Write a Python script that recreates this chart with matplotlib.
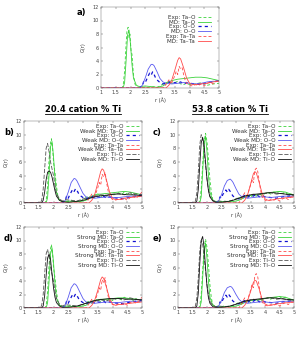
import matplotlib
matplotlib.use("Agg")
import matplotlib.pyplot as plt
from matplotlib.lines import Line2D

# ---------------- data ----------------
x_ticks = [1, 1.5, 2, 2.5, 3, 3.5, 4, 4.5, 5]
x_tick_labels = ["1", "1.5", "2", "2.5", "3", "3.5", "4", "4.5", "5"]
y_ticks = [0, 2, 4, 6, 8, 10, 12]
titles = ["20.4 cation % Ti", "53.8 cation % Ti"]
panel_letters = ["a)", "b)", "c)", "d)", "e)"]

# panel a (pure Ta2O5)
a_exp_tao_r = [1.0, 1.7, 1.75, 1.8, 1.85, 1.88, 1.92, 1.95, 1.98, 2.02, 2.05, 2.1, 2.15, 2.2, 2.3, 2.4, 2.5, 2.6, 2.7, 2.8, 2.9, 3.0, 3.1, 3.2, 3.3, 3.4, 3.5, 3.6, 3.7, 3.8, 3.9, 4.0, 4.2, 4.4, 4.6, 4.8, 5.0]
a_exp_tao_g = [0, 0, 0.3, 2.5, 6.5, 8.5, 9.0, 7.5, 8.0, 5.5, 5.0, 2.0, 0.6, 0.2, 0.0, 0.05, 0.1, 0.05, 0.1, 0.2, 0.1, 0.3, 0.6, 0.8, 0.9, 0.7, 0.8, 1.0, 0.6, 0.5, 0.7, 0.5, 0.6, 0.8, 0.4, 0.6, 0.7]
a_md_tao_r = [1.0, 1.75, 1.8, 1.85, 1.9, 1.95, 2.0, 2.05, 2.1, 2.2, 2.3, 2.5, 2.7, 2.9, 3.1, 3.2, 3.3, 3.4, 3.5, 3.6, 3.8, 4.0, 4.2, 4.4, 4.6, 4.8, 5.0]
a_md_tao_g = [0, 0, 0.8, 4.0, 7.8, 8.6, 6.5, 3.5, 1.5, 0.4, 0.2, 0.3, 0.2, 0.1, 0.3, 0.6, 0.9, 1.1, 1.2, 1.3, 1.4, 1.5, 1.6, 1.6, 1.5, 1.3, 1.1]
a_exp_oo_r = [1.0, 2.3, 2.4, 2.45, 2.5, 2.55, 2.6, 2.65, 2.7, 2.75, 2.8, 2.85, 2.9, 2.95, 3.0, 3.1, 3.2, 3.3, 3.4, 3.5, 3.6, 3.7, 3.8, 3.9, 4.0, 4.2, 4.4, 4.6, 4.8, 5.0]
a_exp_oo_g = [0, 0, 0.3, 1.0, 0.8, 1.3, 1.8, 2.2, 1.9, 2.4, 2.0, 1.5, 1.2, 1.0, 0.8, 0.6, 0.7, 0.9, 0.6, 0.8, 0.7, 0.9, 0.6, 0.8, 0.7, 0.6, 0.5, 0.8, 0.9, 1.1]
a_md_oo_r = [1.0, 2.3, 2.4, 2.5, 2.6, 2.7, 2.75, 2.8, 2.9, 3.0, 3.1, 3.2, 3.4, 3.6, 3.8, 4.0, 4.2, 4.4, 4.6, 4.8, 5.0]
a_md_oo_g = [0, 0, 0.4, 1.5, 2.8, 3.5, 3.5, 3.3, 2.4, 1.4, 0.9, 0.7, 0.6, 0.7, 0.8, 0.7, 0.6, 0.7, 0.9, 1.0, 1.0]
a_exp_tata_r = [1.0, 3.1, 3.2, 3.3, 3.35, 3.4, 3.5, 3.55, 3.6, 3.65, 3.7, 3.75, 3.8, 3.85, 3.9, 4.0, 4.1, 4.2, 4.3, 4.4, 4.5, 4.6, 4.7, 4.8, 4.9, 5.0]
a_exp_tata_g = [0, 0, 0.5, 1.2, 1.0, 0.8, 1.8, 2.5, 2.0, 3.2, 2.8, 3.0, 2.0, 1.2, 0.7, 0.4, 0.3, 0.5, 0.4, 0.6, 0.3, 0.7, 0.9, 0.6, 1.0, 1.1]
a_md_tata_r = [1.0, 3.2, 3.3, 3.4, 3.5, 3.6, 3.65, 3.7, 3.8, 3.9, 4.0, 4.1, 4.2, 4.4, 4.6, 4.8, 5.0]
a_md_tata_g = [0, 0, 0.4, 1.2, 2.6, 4.1, 4.5, 4.3, 3.0, 1.5, 0.7, 0.5, 0.5, 0.6, 0.7, 0.9, 1.0]

# experimental curves, 20.4 cation % Ti (panels b, d)
e20_tao_r = [1.0, 1.7, 1.75, 1.8, 1.85, 1.9, 1.93, 1.97, 2.0, 2.05, 2.1, 2.15, 2.2, 2.3, 2.4, 2.5, 2.6, 2.7, 2.8, 2.9, 3.0, 3.1, 3.2, 3.3, 3.4, 3.5, 3.6, 3.7, 3.8, 3.9, 4.0, 4.1, 4.2, 4.3, 4.4, 4.5, 4.6, 4.7, 4.8, 4.9, 5.0]
e20_tao_g = [0, 0, 0.3, 2.5, 6.5, 8.8, 9.4, 8.0, 6.0, 4.5, 2.5, 1.0, 0.4, 0.2, 0.3, 0.2, 0.4, 0.3, 0.2, 0.3, 0.5, 0.8, 1.0, 0.7, 1.1, 1.3, 0.9, 1.2, 1.0, 1.4, 1.1, 1.3, 1.5, 1.2, 1.6, 1.3, 1.5, 1.1, 1.4, 0.9, 1.2]
e20_oo_r = [1.0, 2.3, 2.4, 2.45, 2.5, 2.55, 2.6, 2.65, 2.7, 2.75, 2.8, 2.85, 2.9, 3.0, 3.1, 3.2, 3.3, 3.4, 3.5, 3.6, 3.7, 3.8, 3.9, 4.0, 4.2, 4.4, 4.6, 4.8, 5.0]
e20_oo_g = [0, 0, 0.4, 1.1, 0.7, 1.2, 1.6, 2.0, 1.7, 2.1, 1.8, 1.4, 1.1, 0.8, 0.6, 0.8, 1.0, 0.7, 0.9, 0.8, 1.0, 0.7, 0.9, 0.8, 0.7, 0.6, 0.9, 1.0, 1.2]
e20_tata_r = [1.0, 3.1, 3.2, 3.3, 3.35, 3.4, 3.5, 3.55, 3.6, 3.65, 3.7, 3.75, 3.8, 3.85, 3.9, 4.0, 4.1, 4.2, 4.3, 4.4, 4.5, 4.6, 4.7, 4.8, 4.9, 5.0]
e20_tata_g = [0, 0, 0.6, 1.3, 1.0, 1.0, 2.2, 3.0, 2.6, 4.2, 3.8, 4.5, 3.0, 1.8, 1.0, 0.5, 0.4, 0.6, 0.5, 0.7, 0.4, 0.8, 1.0, 0.7, 1.1, 1.6]
e20_tio_r = [1.0, 1.55, 1.6, 1.65, 1.7, 1.75, 1.8, 1.85, 1.9, 1.95, 2.0, 2.05, 2.1, 2.2, 2.3, 2.4, 2.6, 2.8, 3.0, 3.2, 3.4, 3.6, 3.8, 4.0, 4.2, 4.4, 4.6, 4.8, 5.0]
e20_tio_g = [0, 0, 0.4, 2.0, 5.0, 8.0, 8.7, 7.5, 6.0, 5.0, 4.0, 2.5, 1.4, 0.6, 0.3, 0.5, 0.4, 0.3, 0.6, 0.8, 1.0, 1.2, 1.1, 1.3, 1.4, 1.2, 1.5, 1.3, 1.2]

# experimental curves, 53.8 cation % Ti (panels c, e)
e53_tao_r = [1.0, 1.7, 1.75, 1.8, 1.85, 1.9, 1.95, 2.0, 2.05, 2.1, 2.15, 2.2, 2.3, 2.4, 2.5, 2.6, 2.7, 2.8, 2.9, 3.0, 3.1, 3.2, 3.3, 3.4, 3.5, 3.6, 3.7, 3.8, 3.9, 4.0, 4.1, 4.2, 4.3, 4.4, 4.5, 4.6, 4.7, 4.8, 4.9, 5.0]
e53_tao_g = [0, 0, 0.3, 2.0, 5.5, 9.0, 10.2, 9.0, 6.5, 3.5, 1.5, 0.5, 0.2, 0.3, 0.2, 0.3, 0.2, 0.3, 0.4, 0.6, 0.8, 0.6, 0.9, 1.1, 0.8, 1.2, 1.0, 1.3, 1.1, 1.4, 1.5, 1.3, 1.6, 1.5, 1.7, 1.4, 1.6, 1.2, 1.3, 1.0]
e53_oo_r = [1.0, 2.3, 2.4, 2.45, 2.5, 2.55, 2.6, 2.65, 2.7, 2.75, 2.8, 2.85, 2.9, 3.0, 3.1, 3.2, 3.3, 3.4, 3.5, 3.6, 3.7, 3.8, 3.9, 4.0, 4.2, 4.4, 4.6, 4.8, 5.0]
e53_oo_g = [0, 0, 0.3, 0.9, 0.7, 1.3, 1.5, 1.9, 1.6, 2.0, 1.7, 1.3, 1.0, 0.7, 0.6, 0.9, 1.1, 0.8, 1.2, 1.0, 1.3, 0.9, 1.1, 0.9, 0.8, 0.7, 0.9, 1.0, 1.1]
e53_tata_r = [1.0, 3.1, 3.2, 3.3, 3.35, 3.4, 3.5, 3.55, 3.6, 3.65, 3.7, 3.75, 3.8, 3.85, 3.9, 4.0, 4.1, 4.2, 4.3, 4.4, 4.5, 4.6, 4.7, 4.8, 4.9, 5.0]
e53_tata_g = [0, 0, 0.7, 1.5, 1.1, 1.2, 2.6, 3.5, 3.0, 4.8, 5.1, 4.6, 3.2, 1.8, 0.9, 0.4, 0.3, 0.5, 0.4, 0.6, 0.3, 0.6, 0.8, 0.5, 0.9, 0.8]
e53_tio_r = [1.0, 1.55, 1.6, 1.65, 1.7, 1.75, 1.8, 1.85, 1.9, 1.95, 2.0, 2.05, 2.1, 2.2, 2.3, 2.4, 2.6, 2.8, 3.0, 3.2, 3.4, 3.6, 3.8, 4.0, 4.2, 4.4, 4.6, 4.8, 5.0]
e53_tio_g = [0, 0, 0.3, 1.5, 4.5, 8.5, 10.0, 9.5, 7.5, 5.5, 3.5, 2.0, 1.0, 0.4, 0.2, 0.3, 0.2, 0.3, 0.6, 0.9, 1.1, 1.3, 1.2, 1.4, 1.5, 1.3, 1.4, 1.2, 1.1]

# weak MD, 20.4 % (panel b)
b_md_tao_r = [1.0, 1.75, 1.8, 1.85, 1.9, 1.95, 2.0, 2.05, 2.1, 2.2, 2.3, 2.5, 2.7, 2.9, 3.1, 3.2, 3.3, 3.4, 3.5, 3.6, 3.8, 4.0, 4.2, 4.4, 4.6, 4.8, 5.0]
b_md_tao_g = [0, 0, 0.8, 4.2, 8.2, 9.0, 6.8, 3.6, 1.5, 0.4, 0.2, 0.3, 0.2, 0.2, 0.4, 0.7, 1.0, 1.2, 1.3, 1.3, 1.4, 1.5, 1.6, 1.7, 1.6, 1.4, 1.2]
b_md_oo_r = [1.0, 2.3, 2.4, 2.5, 2.6, 2.7, 2.75, 2.8, 2.9, 3.0, 3.1, 3.2, 3.4, 3.6, 3.8, 4.0, 4.2, 4.4, 4.6, 4.8, 5.0]
b_md_oo_g = [0, 0, 0.4, 1.6, 3.0, 3.6, 3.5, 3.2, 2.3, 1.4, 0.9, 0.8, 0.7, 0.8, 0.9, 0.8, 0.8, 0.9, 1.0, 1.0, 1.0]
b_md_tata_r = [1.0, 3.2, 3.3, 3.4, 3.5, 3.6, 3.65, 3.7, 3.8, 3.9, 4.0, 4.1, 4.2, 4.4, 4.6, 4.8, 5.0]
b_md_tata_g = [0, 0, 0.4, 1.3, 2.9, 4.6, 5.0, 4.8, 3.3, 1.6, 0.7, 0.5, 0.5, 0.7, 0.8, 0.9, 1.0]
b_md_tio_r = [1.0, 1.6, 1.65, 1.7, 1.75, 1.8, 1.85, 1.9, 1.95, 2.0, 2.05, 2.1, 2.2, 2.3, 2.5, 2.7, 2.9, 3.1, 3.3, 3.5, 3.7, 3.9, 4.1, 4.3, 4.5, 4.7, 5.0]
b_md_tio_g = [0, 0, 0.4, 1.6, 3.4, 4.5, 4.7, 4.5, 3.8, 2.8, 1.8, 1.0, 0.4, 0.2, 0.1, 0.2, 0.3, 0.5, 0.8, 1.0, 1.1, 1.2, 1.3, 1.3, 1.2, 1.2, 1.1]

# weak MD, 53.8 % (panel c)
c_md_tao_r = [1.0, 1.75, 1.8, 1.85, 1.9, 1.95, 2.0, 2.05, 2.1, 2.2, 2.3, 2.5, 2.7, 2.9, 3.1, 3.3, 3.5, 3.7, 3.9, 4.1, 4.3, 4.5, 4.7, 4.9, 5.0]
c_md_tao_g = [0, 0, 0.9, 4.5, 8.6, 9.8, 7.5, 4.0, 1.6, 0.4, 0.2, 0.2, 0.2, 0.2, 0.4, 0.8, 1.1, 1.2, 1.3, 1.5, 1.6, 1.7, 1.6, 1.3, 1.2]
c_md_oo_r = [1.0, 2.3, 2.4, 2.5, 2.6, 2.7, 2.8, 2.85, 2.9, 3.0, 3.1, 3.2, 3.4, 3.6, 3.8, 4.0, 4.2, 4.4, 4.6, 4.8, 5.0]
c_md_oo_g = [0, 0, 0.3, 1.2, 2.5, 3.3, 3.5, 3.3, 3.0, 2.1, 1.3, 0.9, 0.7, 0.8, 0.9, 0.9, 0.8, 0.9, 1.0, 1.0, 1.0]
c_md_tata_r = [1.0, 3.2, 3.3, 3.4, 3.5, 3.6, 3.65, 3.7, 3.8, 3.9, 4.0, 4.1, 4.2, 4.4, 4.6, 4.8, 5.0]
c_md_tata_g = [0, 0, 0.4, 1.2, 2.7, 4.3, 4.6, 4.4, 3.0, 1.4, 0.6, 0.4, 0.4, 0.6, 0.7, 0.8, 0.9]
c_md_tio_r = [1.0, 1.6, 1.65, 1.7, 1.75, 1.8, 1.85, 1.9, 1.95, 2.0, 2.05, 2.1, 2.2, 2.3, 2.5, 2.7, 2.9, 3.1, 3.3, 3.5, 3.7, 3.9, 4.1, 4.3, 4.5, 4.7, 5.0]
c_md_tio_g = [0, 0, 0.3, 2.0, 5.5, 8.8, 9.6, 8.5, 6.0, 3.5, 1.8, 0.9, 0.3, 0.1, 0.1, 0.2, 0.4, 0.7, 1.0, 1.2, 1.3, 1.4, 1.5, 1.5, 1.4, 1.3, 1.2]

# strong MD, 20.4 % (panel d)
d_md_tao_r = [1.0, 1.75, 1.8, 1.85, 1.9, 1.95, 2.0, 2.05, 2.1, 2.2, 2.3, 2.5, 2.7, 2.9, 3.1, 3.2, 3.3, 3.4, 3.5, 3.6, 3.8, 4.0, 4.2, 4.4, 4.6, 4.8, 5.0]
d_md_tao_g = [0, 0, 0.8, 4.0, 8.0, 8.9, 6.8, 3.6, 1.5, 0.4, 0.2, 0.3, 0.2, 0.2, 0.4, 0.7, 1.0, 1.1, 1.2, 1.3, 1.3, 1.4, 1.5, 1.5, 1.4, 1.3, 1.2]
d_md_oo_r = [1.0, 2.3, 2.4, 2.5, 2.6, 2.7, 2.75, 2.8, 2.9, 3.0, 3.1, 3.2, 3.4, 3.6, 3.8, 4.0, 4.2, 4.4, 4.6, 4.8, 5.0]
d_md_oo_g = [0, 0, 0.4, 1.6, 3.0, 3.6, 3.5, 3.2, 2.3, 1.4, 0.9, 0.8, 0.7, 0.8, 0.9, 0.8, 0.8, 0.9, 1.0, 1.0, 1.0]
d_md_tata_r = [1.0, 3.2, 3.3, 3.4, 3.5, 3.6, 3.65, 3.7, 3.8, 3.9, 4.0, 4.1, 4.2, 4.4, 4.6, 4.8, 5.0]
d_md_tata_g = [0, 0, 0.4, 1.2, 2.6, 4.2, 4.6, 4.4, 3.0, 1.4, 0.6, 0.4, 0.5, 0.6, 0.7, 0.8, 0.9]
d_md_tio_r = [1.0, 1.6, 1.65, 1.7, 1.75, 1.8, 1.85, 1.9, 1.95, 2.0, 2.05, 2.1, 2.2, 2.3, 2.5, 2.7, 2.9, 3.1, 3.3, 3.5, 3.7, 3.9, 4.1, 4.3, 4.5, 4.7, 5.0]
d_md_tio_g = [0, 0, 0.3, 1.8, 4.8, 7.4, 8.0, 7.2, 5.0, 3.0, 1.6, 0.8, 0.3, 0.1, 0.1, 0.2, 0.4, 0.7, 1.0, 1.2, 1.3, 1.4, 1.4, 1.4, 1.3, 1.3, 1.2]

# strong MD, 53.8 % (panel e)
e_md_tao_r = [1.0, 1.75, 1.8, 1.85, 1.9, 1.95, 2.0, 2.05, 2.1, 2.2, 2.3, 2.5, 2.7, 2.9, 3.1, 3.3, 3.5, 3.7, 3.9, 4.1, 4.3, 4.5, 4.7, 4.9, 5.0]
e_md_tao_g = [0, 0, 0.9, 4.4, 8.4, 9.6, 7.4, 4.0, 1.6, 0.4, 0.2, 0.2, 0.2, 0.2, 0.4, 0.8, 1.1, 1.2, 1.3, 1.5, 1.6, 1.7, 1.6, 1.3, 1.2]
e_md_oo_r = [1.0, 2.3, 2.4, 2.5, 2.6, 2.7, 2.8, 2.85, 2.9, 3.0, 3.1, 3.2, 3.4, 3.6, 3.8, 4.0, 4.2, 4.4, 4.6, 4.8, 5.0]
e_md_oo_g = [0, 0, 0.3, 1.1, 2.3, 3.0, 3.2, 3.1, 2.8, 2.0, 1.3, 0.9, 0.7, 0.8, 0.9, 0.9, 0.8, 0.9, 1.0, 1.0, 1.0]
e_md_tata_r = [1.0, 3.2, 3.3, 3.4, 3.5, 3.6, 3.65, 3.7, 3.8, 3.9, 4.0, 4.1, 4.2, 4.4, 4.6, 4.8, 5.0]
e_md_tata_g = [0, 0, 0.4, 1.1, 2.4, 3.8, 4.1, 4.0, 2.8, 1.3, 0.6, 0.4, 0.4, 0.6, 0.7, 0.8, 0.9]
e_md_tio_r = [1.0, 1.6, 1.65, 1.7, 1.75, 1.8, 1.85, 1.9, 1.95, 2.0, 2.05, 2.1, 2.2, 2.3, 2.5, 2.7, 2.9, 3.1, 3.3, 3.5, 3.7, 3.9, 4.1, 4.3, 4.5, 4.7, 5.0]
e_md_tio_g = [0, 0, 0.3, 2.2, 6.5, 10.0, 10.6, 9.0, 6.0, 3.2, 1.5, 0.7, 0.2, 0.1, 0.1, 0.2, 0.4, 0.7, 1.0, 1.2, 1.3, 1.4, 1.5, 1.5, 1.4, 1.3, 1.2]

# ---------------- styles ----------------
GREEN = "#3ad23a"
BLUE_D = "#1010d0"
BLUE_S = "#5a5af0"
RED = "#ff4a4a"
BLACK = "#111111"
GRAY = "#555555"

sty = {
    "exp_tao": dict(color=GREEN, lw=0.6, ls=(0, (3.5, 2.5))),
    "md_tao": dict(color=GREEN, lw=0.6, ls="-"),
    "exp_oo": dict(color=BLUE_D, lw=0.9, ls=(0, (2.5, 2.5))),
    "md_oo": dict(color=BLUE_S, lw=0.6, ls="-"),
    "exp_tata": dict(color=RED, lw=0.6, ls=(0, (3.5, 2.5))),
    "md_tata": dict(color=RED, lw=0.6, ls="-"),
    "exp_tio": dict(color=GRAY, lw=0.6, ls=(0, (5, 2))),
    "md_tio": dict(color=BLACK, lw=0.6, ls="-"),
}

W, H = 302, 339
fig = plt.figure(figsize=(W / 100, H / 100), dpi=100)


def px_axes(x0, y0, x1, y1):
    return fig.add_axes([x0 / W, 1 - y1 / H, (x1 - x0) / W, (y1 - y0) / H])


def style_axes(ax):
    ax.set_xlim(1, 5)
    ax.set_ylim(0, 12)
    ax.set_xticks(x_ticks)
    ax.set_xticklabels(x_tick_labels)
    ax.set_yticks(y_ticks)
    ax.tick_params(direction="in", length=1.5, width=0.3, labelsize=3.5,
                   pad=1.5, top=True, right=True, colors="#444444")
    for s in ax.spines.values():
        s.set_linewidth(0.35)
        s.set_color("#777777")
    ax.set_ylabel("G(r)", fontsize=3.6, labelpad=5, color="#333333")
    ax.set_xlabel("r (Å)", fontsize=3.6, labelpad=1.5, color="#333333")


def draw_panel(ax, series, pad):
    for key, r, g, lab in series:
        ax.plot(r, g, label=lab, **sty[key])
    style_axes(ax)
    leg = ax.legend(loc="upper right", fontsize=4.1, frameon=False, markerfirst=False,
                    handlelength=2.3, labelspacing=-0.05, borderaxespad=pad,
                    handletextpad=0.5, borderpad=0.2)
    for t in leg.get_texts():
        t.set_color("#333333")


ax_a = px_axes(101, 7, 219, 88)
draw_panel(ax_a, [
    ("exp_tao", a_exp_tao_r, a_exp_tao_g, "Exp: Ta–O"),
    ("md_tao", a_md_tao_r, a_md_tao_g, "MD: Ta–O"),
    ("exp_oo", a_exp_oo_r, a_exp_oo_g, "Exp: O–O"),
    ("md_oo", a_md_oo_r, a_md_oo_g, "MD: O–O"),
    ("exp_tata", a_exp_tata_r, a_exp_tata_g, "Exp: Ta–Ta"),
    ("md_tata", a_md_tata_r, a_md_tata_g, "MD: Ta–Ta"),
], 1.2)

ax_b = px_axes(24, 121, 142, 203)
draw_panel(ax_b, [
    ("exp_tao", e20_tao_r, e20_tao_g, "Exp: Ta–O"),
    ("md_tao", b_md_tao_r, b_md_tao_g, "Weak MD: Ta–O"),
    ("exp_oo", e20_oo_r, e20_oo_g, "Exp: O–O"),
    ("md_oo", b_md_oo_r, b_md_oo_g, "Weak MD: O–O"),
    ("exp_tata", e20_tata_r, e20_tata_g, "Exp: Ta–Ta"),
    ("md_tata", b_md_tata_r, b_md_tata_g, "Weak MD: Ta–Ta"),
    ("exp_tio", e20_tio_r, e20_tio_g, "Exp: Ti–O"),
    ("md_tio", b_md_tio_r, b_md_tio_g, "Weak MD: Ti–O"),
], 0.3)

ax_c = px_axes(178, 121, 294, 203)
draw_panel(ax_c, [
    ("exp_tao", e53_tao_r, e53_tao_g, "Exp: Ta–O"),
    ("md_tao", c_md_tao_r, c_md_tao_g, "Weak MD: Ta–O"),
    ("exp_oo", e53_oo_r, e53_oo_g, "Exp: O–O"),
    ("md_oo", c_md_oo_r, c_md_oo_g, "Weak MD: O–O"),
    ("exp_tata", e53_tata_r, e53_tata_g, "Exp: Ta–Ta"),
    ("md_tata", c_md_tata_r, c_md_tata_g, "Weak MD: Ta–Ta"),
    ("exp_tio", e53_tio_r, e53_tio_g, "Exp: Ti–O"),
    ("md_tio", c_md_tio_r, c_md_tio_g, "Weak MD: Ti–O"),
], 0.3)

ax_d = px_axes(24, 227, 142, 308)
draw_panel(ax_d, [
    ("exp_tao", e20_tao_r, e20_tao_g, "Exp: Ta–O"),
    ("md_tao", d_md_tao_r, d_md_tao_g, "Strong MD: Ta–O"),
    ("exp_oo", e20_oo_r, e20_oo_g, "Exp: O–O"),
    ("md_oo", d_md_oo_r, d_md_oo_g, "Strong MD: O–O"),
    ("exp_tata", e20_tata_r, e20_tata_g, "Exp: Ta–Ta"),
    ("md_tata", d_md_tata_r, d_md_tata_g, "Strong MD: Ta–Ta"),
    ("exp_tio", e20_tio_r, e20_tio_g, "Exp: Ti–O"),
    ("md_tio", d_md_tio_r, d_md_tio_g, "Strong MD: Ti–O"),
], 0.3)

ax_e = px_axes(178, 227, 294, 308)
draw_panel(ax_e, [
    ("exp_tao", e53_tao_r, e53_tao_g, "Exp: Ta–O"),
    ("md_tao", e_md_tao_r, e_md_tao_g, "Strong MD: Ta–O"),
    ("exp_oo", e53_oo_r, e53_oo_g, "Exp: O–O"),
    ("md_oo", e_md_oo_r, e_md_oo_g, "Strong MD: O–O"),
    ("exp_tata", e53_tata_r, e53_tata_g, "Exp: Ta–Ta"),
    ("md_tata", e_md_tata_r, e_md_tata_g, "Strong MD: Ta–Ta"),
    ("exp_tio", e53_tio_r, e53_tio_g, "Exp: Ti–O"),
    ("md_tio", e_md_tio_r, e_md_tio_g, "Strong MD: Ti–O"),
], 0.3)

# panel letters
for lab, (px, py) in zip(panel_letters, [(77, 12), (4, 133), (153, 133), (4, 239), (153, 239)]):
    fig.text(px / W, 1 - py / H, lab, fontsize=6, fontweight="bold", va="center", ha="left")

# column titles, underlined
fig.canvas.draw()
renderer = fig.canvas.get_renderer()
for t, cx in zip(titles, [83, 230]):
    txt = fig.text(cx / W, 1 - 110 / H, t, fontsize=6, fontweight="bold",
                   ha="center", va="center")
    bb = txt.get_window_extent(renderer=renderer).transformed(fig.transFigure.inverted())
    fig.add_artist(Line2D([bb.x0, bb.x1], [bb.y0 + 0.001, bb.y0 + 0.001],
                          transform=fig.transFigure, color="black", lw=0.6))

fig.savefig("out.png", dpi=100)
